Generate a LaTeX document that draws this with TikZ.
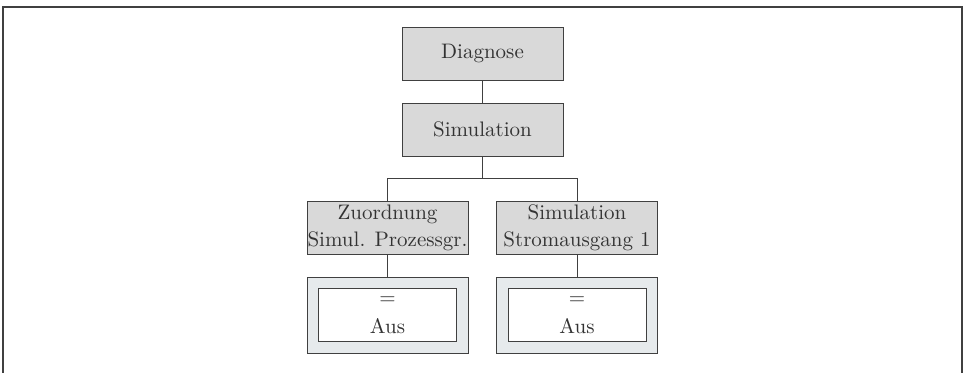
\documentclass[tikz,border=0pt]{standalone}
\usepackage{tikz}
\usetikzlibrary{positioning}

\definecolor{menugray}{HTML}{D9D9D9}
\definecolor{wertgray}{HTML}{E6EAEC}
\definecolor{linegray}{HTML}{404040}
\definecolor{textgray}{HTML}{333333}

\tikzset{
  menu/.style={draw=linegray, fill=menugray, line width=0.45pt, inner sep=0pt,
    minimum width=80.5pt, minimum height=26.5pt, align=center, text=textgray,
    font=\fontsize{10.5}{13.5}\selectfont},
  wertrahmen/.style={draw=linegray, fill=wertgray, line width=0.45pt, inner sep=0pt,
    minimum width=80.5pt, minimum height=38pt},
  wert/.style={draw=linegray, fill=white, line width=0.45pt, inner sep=0pt,
    minimum width=69pt, minimum height=26.5pt, align=center, text=textgray,
    font=\fontsize{10.5}{14.5}\selectfont},
  verbindung/.style={draw=linegray, line width=0.45pt}
}

\begin{document}
\begin{tikzpicture}[x=0.5pt,y=0.5pt]
\useasboundingbox (0,0) rectangle (966,373);
% open frame
\draw[linegray, line width=1pt] (3,0) -- (3,366) -- (962,366) -- (962,0);

\node[menu] (diagnose) at (482.5,319.5) {Diagnose};
\node[menu] (simulation) at (482.5,243.5) {Simulation};
\node[menu] (zuordnung) at (387.5,145.5) {Zuordnung\\Simul. Prozessgr.};
\node[menu] (stromausgang) at (577,145.5) {Simulation\\Stromausgang 1};

\node[wertrahmen] (zuordnungrahmen) at (387.5,58) {};
\node[wert] (zuordnungwert) at (zuordnungrahmen.center) {=\\Aus};
\node[wertrahmen] (stromrahmen) at (577,58) {};
\node[wert] (stromwert) at (stromrahmen.center) {=\\Aus};

\coordinate (verzweigung) at (482.5,195); % branch point
\draw[verbindung] (diagnose) -- (simulation);
\draw[verbindung] (simulation) -- (verzweigung);
\draw[verbindung] (verzweigung) -| (zuordnung.north);
\draw[verbindung] (verzweigung) -| (stromausgang.north);
\draw[verbindung] (zuordnung) -- (zuordnungrahmen);
\draw[verbindung] (stromausgang) -- (stromrahmen);
\end{tikzpicture}
\end{document}
